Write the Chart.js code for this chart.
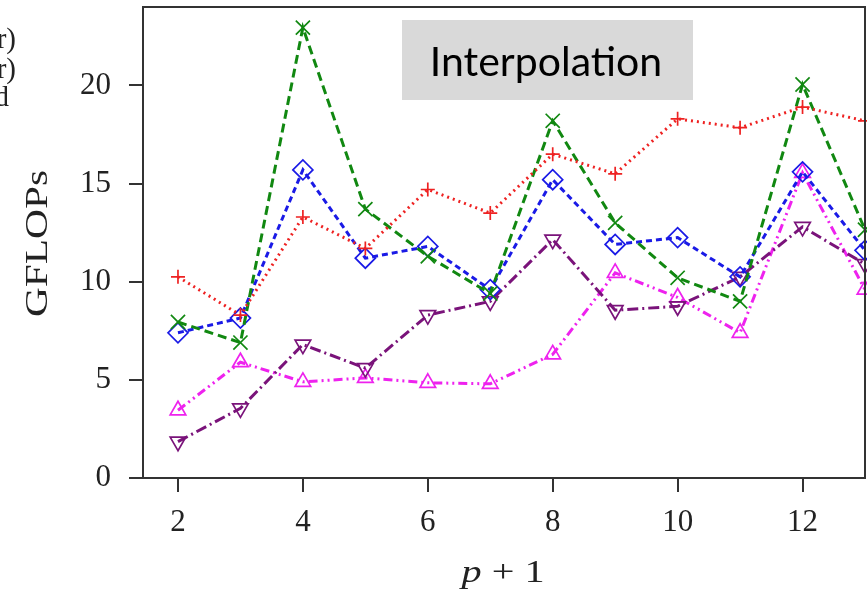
<!DOCTYPE html>
<html>
<head>
<meta charset="utf-8">
<script src="https://cdn.jsdelivr.net/npm/chart.js@4.4.1/dist/chart.umd.min.js"></script>
<style>
  html, body { margin: 0; padding: 0; background: #fff; }
  #wrap { width: 868px; height: 589px; }
</style>
</head>
<body>
<div id="wrap"><canvas id="myChart" width="868" height="589"></canvas></div>
<script>
const xs = [2, 3, 4, 5, 6, 7, 8, 9, 10, 11, 12, 13];
const redPlus = [10.25, 8.3, 13.3, 11.7, 14.7, 13.5, 16.5, 15.5, 18.3, 17.85, 18.9, 18.2];
const greenX = [7.95, 6.9, 22.95, 13.7, 11.3, 9.4, 18.2, 13.0, 10.2, 9.0, 20.05, 12.65];
const blueDiamond = [7.4, 8.15, 15.7, 11.2, 11.8, 9.6, 15.2, 11.9, 12.25, 10.25, 15.6, 11.6];
const purpleDown = [1.85, 3.55, 6.8, 5.6, 8.3, 9.0, 12.15, 8.55, 8.75, 10.25, 12.8, 10.9];
const magentaUp = [3.45, 5.9, 4.9, 5.1, 4.85, 4.8, 6.3, 10.45, 9.2, 7.4, 15.55, 9.6];
const xTicks = [2, 4, 6, 8, 10, 12];
const yTicks = [0, 5, 10, 15, 20];

const pts = arr => arr.map((v, i) => ({ x: xs[i], y: v }));
const serif = "'Liberation Serif', 'DejaVu Serif', serif";
const ink = '#222';

function series(data, color, dash, style, radius, rot) {
    return {
        data: pts(data),
        borderColor: color,
        borderWidth: 3,
        borderDash: dash,
        pointStyle: style,
        pointRadius: radius,
        pointRotation: rot || 0,
        pointBorderColor: color,
        pointBorderWidth: 1.7,
        pointBackgroundColor: 'rgba(0,0,0,0)',
        fill: false,
        tension: 0,
        clip: 2
    };
}

function noPad(s) {
    s.paddingTop = 0; s.paddingBottom = 0; s.paddingLeft = 0; s.paddingRight = 0;
}

// frame, axis titles, clipped legend text and the label box
const extras = {
    id: 'extras',
    afterDraw(chart) {
        const c = chart.ctx, a = chart.chartArea;
        c.save();
        c.strokeStyle = '#333';
        c.lineWidth = 2;
        c.strokeRect(a.left, a.top, a.right - a.left, a.bottom - a.top);

        c.fillStyle = ink;
        c.textBaseline = 'alphabetic';
        // x title: "p + 1", stretched to the reference width
        c.font = 'italic 32px ' + serif;
        const pW = c.measureText('p').width;
        c.font = '32px ' + serif;
        const restW = c.measureText(' + 1').width;
        const k = 83 / (pW + restW);
        c.save();
        c.translate(503 - 41.5, 582);
        c.scale(k, 1);
        c.textAlign = 'left';
        c.font = 'italic 32px ' + serif;
        c.fillText('p', 0, 0);
        c.font = '32px ' + serif;
        c.fillText(' + 1', pW, 0);
        c.restore();

        // y title
        c.save();
        c.translate(47, 243.5);
        c.rotate(-Math.PI / 2);
        c.font = '32px ' + serif;
        const gW = c.measureText('GFLOPs').width;
        c.scale(147 / gW, 1);
        c.textAlign = 'center';
        c.fillText('GFLOPs', 0, 0);
        c.restore();

        c.font = '29px ' + serif;
        c.textAlign = 'right';
        c.fillText('r)', 16, 48);
        c.fillText('r)', 16, 78);
        c.fillText('d', 9, 106);

        c.fillStyle = '#d9d9d9';
        c.fillRect(402, 20, 291, 80);
        c.fillStyle = '#000';
        c.textAlign = 'center';
        c.font = "41px Lato, 'Noto Sans', sans-serif";
        c.fillText('Interpolation', 546, 76);
        c.restore();
    }
};

const config = {
    type: 'line',
    data: {
        datasets: [
            series(redPlus, '#ee2222', [2, 4], 'cross', 7),
            series(greenX, '#118811', [9, 5], 'crossRot', 10),
            series(blueDiamond, '#1a1ae6', [6, 4], 'rectRot', 10),
            series(purpleDown, '#7a137a', [11, 4, 2, 4], 'triangle', 9, 180),
            series(magentaUp, '#ee22ee', [9, 4, 2, 4, 2, 4], 'triangle', 9)
        ]
    },
    options: {
        responsive: false,
        animation: false,
        layout: { autoPadding: false, padding: { top: 7, right: 3, left: 0, bottom: 0 } },
        plugins: {
            legend: { display: false },
            tooltip: { enabled: false },
            title: { display: false }
        },
        scales: {
            x: {
                type: 'linear',
                min: 1.44,
                max: 13,
                afterBuildTicks: s => { s.ticks = xTicks.map(v => ({ value: v })); },
                afterFit: s => { s.height = 111; noPad(s); },
                grid: { drawOnChartArea: false, drawTicks: true, tickLength: 14, color: '#333', lineWidth: 2 },
                border: { display: true, color: '#333', width: 2 },
                ticks: { color: ink, font: { family: serif, size: 31 }, padding: 12, maxRotation: 0 }
            },
            y: {
                min: 0,
                max: 24,
                afterBuildTicks: s => { s.ticks = yTicks.map(v => ({ value: v })); },
                afterFit: s => { s.width = 143; noPad(s); },
                grid: { drawOnChartArea: false, drawTicks: true, tickLength: 14, color: '#333', lineWidth: 2 },
                border: { display: true, color: '#333', width: 2 },
                ticks: { color: ink, font: { family: serif, size: 31 }, padding: 18 }
            }
        }
    },
    plugins: [extras]
};

const myChart = new Chart(document.getElementById('myChart'), config);
</script>
</body>
</html>
